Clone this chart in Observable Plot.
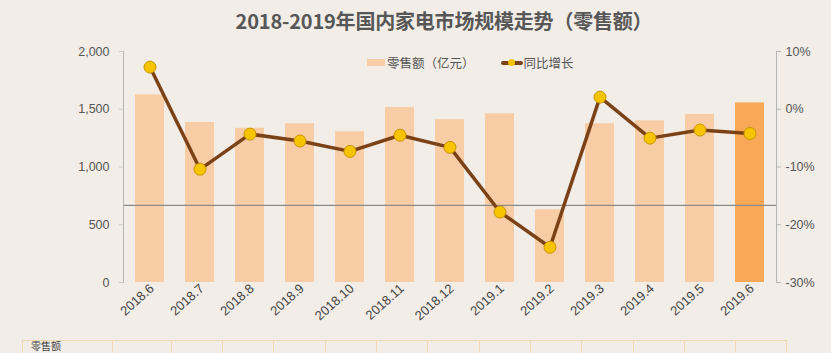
<!DOCTYPE html>
<html>
<head>
<meta charset="utf-8">
<script src="https://cdn.jsdelivr.net/npm/d3@7"></script>
<script src="https://cdn.jsdelivr.net/npm/@observablehq/plot@0.6"></script>
<style>
  html, body { margin: 0; padding: 0; background: #f2ede7; overflow: hidden; }
  #wrap { position: relative; width: 831px; height: 353px; background: #f2ede7; font-family: "Noto Sans CJK SC", "Noto Sans", sans-serif; overflow: hidden; }
  #title { position: absolute; left: 0; width: 888px; top: 6px; text-align: center; font-size: 20px; font-weight: bold; color: #575757; letter-spacing: -0.2px; }
  #legend { position: absolute; top: 53px; left: 367px; font-size: 12.5px; color: #555; display: flex; align-items: center; }
  #legend .sw { display: inline-block; width: 18px; height: 7px; background: #f8cda6; margin-right: 2px; }
  #legend .ln { position: relative; display: inline-block; width: 22px; height: 4px; background: #7b4218; margin: 0 1px 0 26px; border-radius: 2px; }
  #legend .ln::after { content: ""; position: absolute; left: 7px; top: -2px; width: 7px; height: 7px; border-radius: 50%; background: #f6c400; }
  #chart { position: absolute; left: 0; top: 0; }
  .cell { position: absolute; top: 340px; height: 40px; border: 1.3px solid #f0d9b2; box-sizing: border-box; color: #444; padding: 0 0 0 8px; }
  .cell span { display: block; font-size: 10px; line-height: 10px; height: 10px; margin-top: 0px; }
</style>
</head>
<body>
<div id="wrap">
  <div id="chart"></div>
  <div id="title">2018-2019年国内家电市场规模走势（零售额）</div>
  <div id="legend"><span class="sw"></span>零售额（亿元）<span class="ln"></span>同比增长</div>
  <div id="table"></div>
</div>
<script>
const categories = ["2018.6","2018.7","2018.8","2018.9","2018.10","2018.11","2018.12","2019.1","2019.2","2019.3","2019.4","2019.5","2019.6"];
const retail = [1625, 1385, 1335, 1375, 1305, 1515, 1410, 1460, 630, 1375, 1400, 1455, 1555];
const yoy = [7.3, -10.4, -4.3, -5.5, -7.3, -4.5, -6.6, -17.8, -23.9, 2.1, -5.0, -3.6, -4.2];
const leftTicks = [0, 500, 1000, 1500, 2000];
const rightTicks = [10, 0, -10, -20, -30];
const refLine = [667];
const tableHead = ["零售额"];

const pctToY = p => (p + 30) / 40 * 2000;
const data = categories.map((c, i) => ({cat: c, v: retail[i], p: yoy[i], last: i === categories.length - 1}));

const plot = Plot.plot({
  width: 831,
  height: 353,
  marginTop: 51,
  marginBottom: 71,
  marginLeft: 123,
  marginRight: 55,
  style: {background: "transparent", fontFamily: "Liberation Sans, Arial, sans-serif", fontSize: "12px", color: "#555"},
  x: {domain: categories, paddingInner: 0.42, paddingOuter: 0.21, label: null},
  y: {domain: [0, 2000], label: null},
  marks: [
    Plot.barY(data, {x: "cat", y: "v", fill: d => d.last ? "#f9a858" : "#f8cda6"}),
    Plot.ruleY(refLine, {stroke: "#8a8a8a", strokeWidth: 1.3}),
    Plot.frame({anchor: "left", stroke: "#b5b5b5"}),
    Plot.frame({anchor: "right", stroke: "#b5b5b5"}),
    Plot.axisY({ticks: leftTicks, tickFormat: d3.format(","), tickSize: 4, tickPadding: 10, stroke: "#ccc", fill: "#555", fontSize: 12.5}),
    Plot.axisY({anchor: "right", ticks: rightTicks.map(pctToY), tickFormat: (d, i) => rightTicks[i] + "%", tickSize: 4, tickPadding: 5, stroke: "#b5b5b5", fill: "#555", fontSize: 12.5}),
    Plot.axisX({tickRotate: -42, tickSize: 0, tickPadding: 4, dx: 2, fill: "#444", fontSize: 13}),
    Plot.line(data, {x: "cat", y: d => pctToY(d.p), stroke: "#7b4218", strokeWidth: 3.5, curve: "linear"}),
    Plot.dot(data, {x: "cat", y: d => pctToY(d.p), r: 6, fill: "#f6c400", stroke: "#c99400", strokeWidth: 1})
  ]
});
document.getElementById("chart").appendChild(plot);

const edges = [22, 112, 171, 222, 273, 325, 376, 427, 479, 530, 581, 633, 684, 735, 786];
const tbl = document.getElementById("table");
for (let i = 0; i < edges.length - 1; i++) {
  const d = document.createElement("div");
  d.className = "cell";
  d.style.left = edges[i] + "px";
  d.style.width = (edges[i + 1] - edges[i] + 1) + "px";
  if (i === 0) {
    const s = document.createElement("span");
    s.textContent = tableHead[0];
    d.appendChild(s);
  }
  tbl.appendChild(d);
}
</script>
</body>
</html>
